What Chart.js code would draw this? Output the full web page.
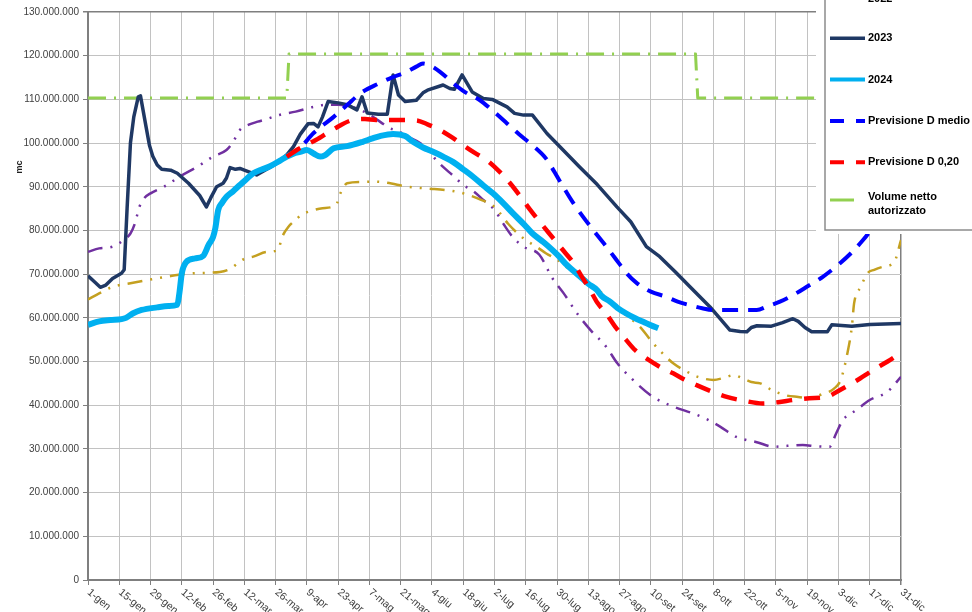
<!DOCTYPE html>
<html>
<head>
<meta charset="utf-8">
<script src="https://cdn.jsdelivr.net/npm/chart.js@4.4.1/dist/chart.umd.min.js"></script>
<style>
  html, body { margin: 0; padding: 0; background: #ffffff; }
  #wrap { position: relative; width: 972px; height: 612px; }
</style>
</head>
<body>
<div id="wrap"><canvas id="c"></canvas></div>
<script>
// ---- tick labels ----
const xTickLabels = ['1-gen','15-gen','29-gen','12-feb','26-feb','12-mar','26-mar','9-apr','23-apr','7-mag','21-mag','4-giu','18-giu','2-lug','16-lug','30-lug','13-ago','27-ago','10-set','24-set','8-ott','22-ott','5-nov','19-nov','3-dic','17-dic','31-dic'];
const yAxisTitle = 'mc';
const UNIT = 1000000; // values below are in millions of mc

// ---- series: day of year (0 = 1-gen) and volume (millions mc) ----
const days2021 = [0,5,11,16,19,21,23,25,28,34,41,49,56,62,65,68,72,76,80,86,93,101,108,112,120,126,131,135,138,143,149,152,157,164,168,172,177,182,186,190,195,202,208,213,219,225,232,237,244,253,262,271,277,283,290,295,299,307,313,320,326,332,335,338,344,350,358,364];
const vol2021 = [75.1,75.9,76.3,77.8,79.3,81.6,85.4,87.3,88.5,90.0,92.3,94.6,96.9,98.4,100.3,103.0,104.2,104.9,105.5,106.5,107.2,108.3,108.8,108.8,108.0,106.5,104.8,103.4,103.0,101.5,99.9,98.4,95.5,92.3,90.4,89.2,87.0,84.7,81.5,78.6,76.3,74.5,69.0,65.6,61.0,57.2,53.4,49.6,45.8,41.9,39.7,38.1,36.8,35.1,32.8,32.0,31.6,30.5,30.7,30.9,30.6,30.5,33.6,36.6,38.9,41.2,43.1,46.5];

const days2022 = [0,5,11,19,26,35,47,59,64,67,70,74,80,85,87,90,92,96,100,105,111,113,116,123,128,134,143,152,161,168,176,182,188,192,196,201,205,211,216,221,225,232,240,247,253,258,262,267,273,280,285,289,293,297,301,306,313,318,323,328,334,337,340,342,343,346,349,352,356,361,364];
const vol2022 = [64.2,65.6,67.1,67.9,68.6,69.4,70.2,70.5,71.3,72.5,73.5,74.0,75.1,75.5,78.6,81.0,82.0,83.7,84.5,85.1,85.8,88.5,90.8,91.1,91.2,90.9,90.0,89.6,89.2,88.5,87.0,85.4,81.6,79.5,77.8,76.2,74.8,73.0,70.9,69.5,67.9,64.8,61.0,58.0,54.2,51.5,49.6,48.0,46.5,45.8,46.3,46.9,46.2,45.3,45.0,43.5,42.2,41.9,41.6,42.4,43.8,45.8,51.9,58.0,63.3,67.1,70.2,71.0,71.7,72.8,77.8];

const days2023 = [0,3,5.5,8,11,15,16.2,17.5,19,20.5,22.5,23.5,26,27.5,29,31,33,37,40,45,50,53,55,57.6,60.5,62,63.6,66,68,70,75.5,80,85,89,92,95,98.5,101,103,105,107.5,112,116,120.4,122.7,125,130,134,136.6,139,142,147,150,152,159,162,164,167.5,172,177,181,187.6,191,195,199,205.5,212.7,220,228,236.8,243,250,256,263,269.5,278.5,287.4,292,295,297,299.5,306,311,315.6,318,321,324,331,333,342,350,364];
const vol2023 = [69.6,68.2,67.0,67.5,69.0,70.2,71.0,85.0,100.0,106.0,110.6,110.8,103.7,99.5,97.0,95.0,94.0,93.8,93.1,90.8,88.0,85.4,87.5,90.0,90.8,92.0,94.4,94.0,94.2,93.8,92.7,94.0,95.5,97.3,99.2,102.0,104.4,104.5,103.7,106.0,109.5,109.2,108.8,107.6,110.6,106.9,106.6,106.6,115.6,111.0,109.5,109.8,111.5,112.1,113.3,112.5,112.3,115.6,111.7,110.2,110.0,108.3,106.8,106.4,106.4,102.2,98.4,94.6,90.5,85.4,82.0,76.3,74.0,70.5,67.1,62.5,57.2,56.9,56.8,57.8,58.2,58.1,58.9,59.8,59.2,57.8,56.8,56.8,58.4,58.1,58.5,58.7];

const days2024 = [0,5,10,15,17,20,24,31,36,40,41,42,44,48,51.6,54,56,57,58.3,60,62,65,68,71,74,78,81.5,86,89,92,95,98,101,104,106,110,116,123,127,130.7,136.6,142,145.5,150,154.5,159,163.4,168,172.4,177,181.3,186,190.3,195,199,204,208,211,214,217,220,224,227.8,230,233.7,237,241,245,248.6,252,255.3];
const vol2024 = [58.4,59.2,59.5,59.7,60.0,61.0,61.8,62.4,62.7,63.0,66.0,70.2,72.8,73.6,74.2,76.7,78.5,80.5,84.7,86.3,87.7,89.0,90.4,91.8,93.1,94.0,94.7,96.0,96.9,97.6,98.0,98.4,97.6,96.9,97.2,98.8,99.3,100.3,101.0,101.6,102.1,101.6,100.3,99.0,98.0,96.9,95.7,94.0,92.3,90.3,88.5,86.2,83.9,81.5,79.3,77.3,75.5,74.0,72.3,70.9,69.6,67.8,66.4,65.0,63.7,62.3,61.0,59.9,59.1,58.3,57.6];

const daysPrevMedio = [97,101,110,116,122,130,136,142.7,147,150,154,157.6,163.5,169,175.5,181,187.6,193,199,205,211,217,224.8,231,236.7,241,245.6,252,259,264,269.5,275,280,290,299.4,304,309.8,316,321.8,329,336.7,342,347,352,358,364];
const volPrevMedio = [100.0,102.3,106.0,108.7,111.4,113.6,115.0,116.3,117.5,118.2,117.5,116.3,113.7,111.6,109.8,107.5,104.5,102.0,99.5,96.5,91.5,86.5,81.0,77.0,73.2,70.3,68.0,66.0,64.8,63.7,62.9,62.2,61.8,61.8,61.8,62.6,63.7,65.3,67.1,69.4,72.5,75.0,77.8,81.0,84.5,88.0];

const daysPrev020 = [89,94,102,110,118.6,124,129,138,147,152,157.6,163,168,173,178.5,184,189,194,198,203,208,213,217,221,224.8,228,232,236,241,245,250,256,262,267,272.5,279,286,294,302,309,315.8,323,330.7,336.7,344,351.6,358,364];
const volPrev020 = [96.9,98.6,100.7,103.2,105.3,105.5,105.3,105.3,105.2,104.3,103.0,101.3,99.5,97.8,96.1,93.6,90.8,87.5,84.7,81.5,78.4,75.3,72.8,69.5,66.4,63.5,61.0,58.0,54.9,52.6,50.7,48.8,47.3,45.9,44.6,43.2,41.9,41.0,40.4,40.7,41.2,41.6,41.9,43.5,45.6,48.1,50.0,52.0];

const daysVolume = [0,89,90,272,273,364];
const volVolume = [110.3,110.3,120.4,120.4,110.3,110.3];

function pts(days, vals) { return days.map((d, i) => ({ x: d, y: vals[i] * UNIT })); }
function fmtIt(v) { return String(Math.round(v)).replace(/\B(?=(\d{3})+(?!\d))/g, '.'); }

const FONT = '"Liberation Sans", Arial, sans-serif';

const datasets = [
  { label: '2021', data: pts(days2021, vol2021), borderColor: '#7030A0', borderWidth: 2.5, borderDash: [15,8,2,8,2,8], order: 7, cubicInterpolationMode: 'monotone' },
  { label: '2022', data: pts(days2022, vol2022), borderColor: '#C4A020', borderWidth: 2.5, borderDash: [15,8,2,8,2,8], order: 6, cubicInterpolationMode: 'monotone' },
  { label: '2023', data: pts(days2023, vol2023), borderColor: '#1F3864', borderWidth: 3.5, order: 4, tension: 0 },
  { label: '2024', data: pts(days2024, vol2024), borderColor: '#00B0F0', borderWidth: 6, order: 3, cubicInterpolationMode: 'monotone' },
  { label: 'Previsione D medio', data: pts(daysPrevMedio, volPrevMedio), borderColor: '#0000FF', borderWidth: 4, borderDash: [16,10], order: 2, cubicInterpolationMode: 'monotone' },
  { label: 'Previsione D 0,20', data: pts(daysPrev020, volPrev020), borderColor: '#FF0000', borderWidth: 4.5, borderDash: [16,12], order: 1, cubicInterpolationMode: 'monotone' },
  { label: ['Volume netto', 'autorizzato'], data: pts(daysVolume, volVolume), borderColor: '#92D050', borderWidth: 3, borderDash: [18,8,2,8], order: 5, tension: 0 }
];
datasets.forEach(d => { d.pointRadius = 0; d.fill = false; d.borderJoinStyle = 'round'; });

// rotated x labels + axis title + overlapping legend box
const decorPlugin = {
  id: 'decor',
  afterDraw(chart) {
    const ctx = chart.ctx;
    const xs = chart.scales.x;
    const area = chart.chartArea;
    // x tick labels, rotated clockwise
    ctx.save();
    ctx.fillStyle = '#404040';
    ctx.font = '10.5px ' + FONT;
    ctx.textAlign = 'left';
    ctx.textBaseline = 'top';
    xs.ticks.forEach((t, i) => {
      const px = xs.getPixelForValue(t.value);
      ctx.save();
      ctx.translate(px + 4, area.bottom + 7);
      ctx.rotate(40 * Math.PI / 180);
      ctx.fillText(xTickLabels[i] || '', 0, 0);
      ctx.restore();
    });
    ctx.restore();

    // y axis title
    ctx.save();
    ctx.fillStyle = '#202020';
    ctx.font = 'bold 9px ' + FONT;
    ctx.textAlign = 'center';
    ctx.textBaseline = 'middle';
    ctx.translate(20, 167);
    ctx.rotate(-Math.PI / 2);
    ctx.fillText(yAxisTitle, 0, 0);
    ctx.restore();

    // legend box (overlaps upper right of plot, partly cut off at top)
    ctx.save();
    ctx.fillStyle = '#ffffff';
    ctx.fillRect(816, 0, 160, 234);
    ctx.strokeStyle = '#8c8c8c';
    ctx.lineWidth = 1.5;
    ctx.strokeRect(825, -10, 200, 240);
    const step = 41.3;
    const y0 = 38.3 - 2 * step;
    chart.data.datasets.forEach((ds, i) => {
      const cy = y0 + i * step + (i === 1 ? 1.5 : 0);
      const multi = Array.isArray(ds.label);
      const ly = multi ? cy - 3.5 : cy;
      ctx.save();
      ctx.strokeStyle = ds.borderColor;
      ctx.lineWidth = Math.min(ds.borderWidth, 4);
      if (ds.borderDash && ds.borderDash.length === 2) ctx.setLineDash([14, 12]);
      ctx.beginPath();
      ctx.moveTo(830, ly);
      ctx.lineTo(multi ? 854 : 865, ly);
      ctx.stroke();
      ctx.restore();
      ctx.fillStyle = '#000000';
      ctx.font = 'bold 11px ' + FONT;
      ctx.textAlign = 'left';
      ctx.textBaseline = 'middle';
      if (multi) {
        ctx.fillText(ds.label[0], 868, cy - 6.5);
        ctx.fillText(ds.label[1], 868, cy + 7);
      } else {
        ctx.fillText(ds.label, 868, cy);
      }
    });
    ctx.restore();
  }
};

new Chart(document.getElementById('c'), {
  type: 'line',
  data: { datasets },
  options: {
    responsive: true,
    maintainAspectRatio: false,
    animation: false,
    layout: { padding: { left: 0, right: 71, top: 12, bottom: 0 } },
    plugins: { legend: { display: false }, tooltip: { enabled: false }, title: { display: false } },
    scales: {
      x: {
        type: 'linear', min: 0, max: 364,
        ticks: { stepSize: 14, display: false },
        grid: {
          color: ctx => (ctx.tick && ctx.tick.value === 364) ? '#7f7f7f' : '#c2c2c2',
          lineWidth: ctx => (ctx.tick && ctx.tick.value === 364) ? 1.5 : 1,
          tickColor: '#7f7f7f', tickLength: 5, drawTicks: true
        },
        border: { display: true, color: '#7f7f7f', width: 2 },
        afterFit: s => { s.height = 32; }
      },
      y: {
        type: 'linear', min: 0, max: 130 * UNIT,
        ticks: { stepSize: 10 * UNIT, padding: 4, color: '#404040', font: { family: FONT, size: 10 }, callback: v => fmtIt(v) },
        grid: {
          color: ctx => (ctx.tick && ctx.tick.value === 130 * UNIT) ? '#7f7f7f' : '#c2c2c2',
          lineWidth: ctx => (ctx.tick && ctx.tick.value === 130 * UNIT) ? 1.5 : 1,
          tickColor: '#7f7f7f', tickLength: 5
        },
        border: { display: true, color: '#7f7f7f', width: 2 },
        afterFit: s => { s.width = 88; }
      }
    }
  },
  plugins: [decorPlugin]
});
</script>
</body>
</html>
